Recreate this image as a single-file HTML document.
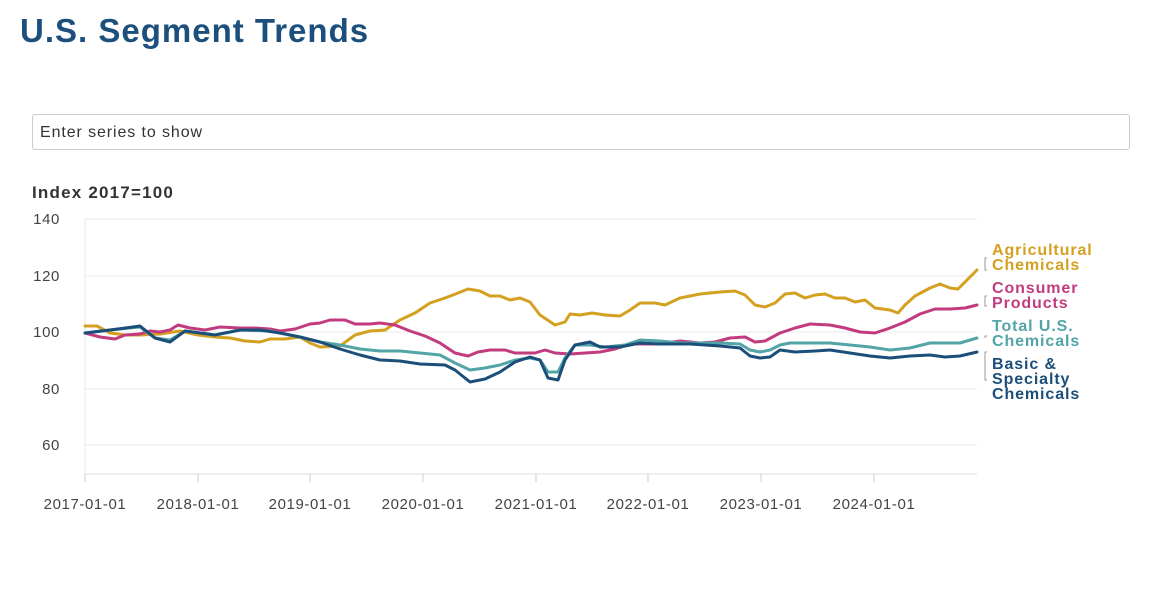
<!DOCTYPE html>
<html><head><meta charset="utf-8"><style>
body{margin:0;background:#fff;font-family:"Liberation Sans",sans-serif;}
.t{position:absolute;left:20px;top:12px;font-size:33px;font-weight:bold;color:#1d4f7c;letter-spacing:1px}
.in{position:absolute;left:32px;top:114px;width:1098px;height:36px;border:1px solid #ccc;border-radius:3px;box-sizing:border-box}
.in span{position:absolute;left:7px;top:9px;font-size:16px;color:#333;letter-spacing:0.9px}
</style></head><body>
<div class="t">U.S. Segment Trends</div>
<div class="in"><span>Enter series to show</span></div>
<svg width="1155" height="600" style="position:absolute;left:0;top:0" font-family="Liberation Sans, sans-serif">
<text x="32" y="198" font-size="17" font-weight="bold" fill="#333" letter-spacing="1.2">Index 2017=100</text>
<g stroke="#e8e8e8" stroke-width="1">
<line x1="85" x2="977" y1="219" y2="219"/><line x1="85" x2="977" y1="276" y2="276"/><line x1="85" x2="977" y1="332" y2="332"/><line x1="85" x2="977" y1="389" y2="389"/><line x1="85" x2="977" y1="445" y2="445"/>
<line x1="85" x2="85" y1="219" y2="474"/>
</g>
<line x1="85" x2="977" y1="474" y2="474" stroke="#ddd"/>
<g stroke="#ccc"><line x1="85" x2="85" y1="474" y2="482"/><line x1="198" x2="198" y1="474" y2="482"/><line x1="310" x2="310" y1="474" y2="482"/><line x1="423" x2="423" y1="474" y2="482"/><line x1="536" x2="536" y1="474" y2="482"/><line x1="648" x2="648" y1="474" y2="482"/><line x1="761" x2="761" y1="474" y2="482"/><line x1="874" x2="874" y1="474" y2="482"/></g>
<g font-size="15" fill="#444" text-anchor="end" letter-spacing="0.6">
<text x="60" y="224">140</text><text x="60" y="281">120</text><text x="60" y="337">100</text><text x="60" y="394">80</text><text x="60" y="450">60</text></g>
<g font-size="15" fill="#444" text-anchor="middle" letter-spacing="0.6">
<text x="85" y="509">2017-01-01</text><text x="198" y="509">2018-01-01</text><text x="310" y="509">2019-01-01</text><text x="423" y="509">2020-01-01</text><text x="536" y="509">2021-01-01</text><text x="648" y="509">2022-01-01</text><text x="761" y="509">2023-01-01</text><text x="874" y="509">2024-01-01</text></g>
<g fill="none" stroke-width="3" stroke-linejoin="round" stroke-linecap="round">
<polyline stroke="#d4a020" points="85,326 97,326 110,333 125,335 140,335 160,334 180,331 198,335 215,337 230,338 245,341 260,342 270,339 285,339 300,337 310,343 320,347 340,346 355,335 370,331 385,330 400,320 415,313 430,303 445,298 458,293 468,289 480,291 490,296 500,296 510,300 520,298 530,302 540,315 555,325 565,322 570,314 580,315 592,313 605,315 620,316 630,310 640,303 655,303 665,305 680,298 700,294 720,292 735,291 745,295 755,305 765,307 775,303 785,294 795,293 805,298 815,295 825,294 835,298 845,298 855,302 865,300 875,308 890,310 898,313 905,305 915,296 930,288 940,284 950,288 958,289 965,282 977,270"/>
<polyline stroke="#c23b7f" points="85,333 100,337 115,339 125,335 140,334 150,331 160,332 170,330 178,325 190,328 205,330 220,327 240,328 255,328 270,329 280,331 295,329 310,324 320,323 330,320 345,320 355,324 370,324 380,323 395,325 410,331 425,336 440,343 455,353 468,356 478,352 490,350 505,350 515,353 525,353 535,353 545,350 555,353 570,354 585,353 600,352 615,349 630,344 645,344 660,344 680,341 700,343 715,342 730,338 745,337 755,342 765,341 780,333 795,328 810,324 830,325 845,328 860,332 875,333 890,328 905,322 920,314 935,309 950,309 965,308 977,305"/>
<polyline stroke="#52a4a6" points="85,333 110,330 140,327 155,338 170,340 185,331 200,333 215,335 240,330 270,331 300,337 320,342 340,345 360,349 380,351 400,351 420,353 440,355 455,363 470,370 485,368 500,365 515,360 530,358 540,360 548,372 558,372 565,358 575,345 590,345 605,347 625,345 640,340 660,341 680,343 700,343 720,343 740,344 750,350 760,352 770,350 780,345 790,343 810,343 830,343 850,345 870,347 890,350 910,348 930,343 945,343 960,343 977,338"/>
<polyline stroke="#1b4f7a" points="85,333 110,330 140,326 155,338 170,342 185,331 200,333 215,335 240,330 260,330 280,333 300,337 320,342 340,349 360,355 380,360 400,361 420,364 445,365 455,370 470,382 485,379 500,372 515,362 530,357 540,360 548,378 558,380 565,360 575,345 590,342 600,347 620,347 640,343 660,344 690,344 720,346 740,348 750,356 760,358 770,357 780,350 795,352 815,351 830,350 850,353 870,356 890,358 910,356 930,355 945,357 960,356 977,352"/>
</g>
<g stroke="#999" fill="none" stroke-width="1">
<path d="M987 258 L985 258 L985 270 L987 270"/><path d="M987 296 L985 296 L985 306 L987 306"/><path d="M987 336 L985 336 L985 338"/><path d="M987 352 L985 352 L985 380 L987 380"/></g>
<g font-size="16" font-weight="bold" letter-spacing="0.9">
<text x="992" y="255" fill="#d4a020">Agricultural</text><text x="992" y="270" fill="#d4a020">Chemicals</text>
<text x="992" y="293" fill="#c23b7f">Consumer</text><text x="992" y="308" fill="#c23b7f">Products</text>
<text x="992" y="331" fill="#52a4a6">Total U.S.</text><text x="992" y="346" fill="#52a4a6">Chemicals</text>
<text x="992" y="369" fill="#1b4f7a">Basic &amp;</text><text x="992" y="384" fill="#1b4f7a">Specialty</text><text x="992" y="399" fill="#1b4f7a">Chemicals</text>
</g>
</svg>
</body></html>
